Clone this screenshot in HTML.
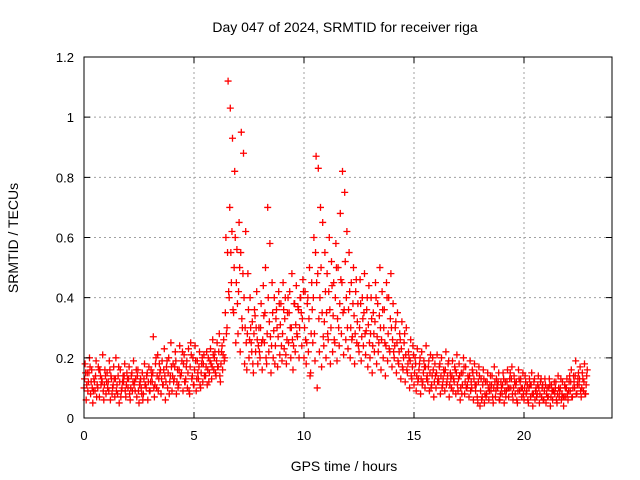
<!DOCTYPE html>
<html><head><meta charset="utf-8">
<style>
html,body{margin:0;padding:0;background:#fff;}
svg{display:block;font-family:"Liberation Sans",sans-serif;}
</style></head>
<body>
<svg id="chart" width="640" height="480" viewBox="0 0 640 480" xmlns="http://www.w3.org/2000/svg">
<rect width="640" height="480" fill="#fff"/>
<text x="345" y="32" font-size="14" text-anchor="middle">Day 047 of 2024, SRMTID for receiver riga</text>
<text transform="translate(18,238) rotate(-90)" font-size="14" text-anchor="middle">SRMTID / TECUs</text>
<text x="344" y="471" font-size="14" text-anchor="middle">GPS time / hours</text>
<g id="grid"></g>
<g id="marks"></g>
<g id="axes"></g>
</svg>
<script>
const xTicks=[0,5,10,15,20];
const yTicks=[0,0.2,0.4,0.6,0.8,1,1.2];
const yTickLabels=["0","0.2","0.4","0.6","0.8","1","1.2"];
const timeStep=0.1;
const seriesLow=[.10,.06,.12,.08,.05,.09,.11,.07,.13,.06,
.08,.12,.06,.10,.07,.11,.05,.09,.12,.07,
.10,.06,.09,.12,.07,.05,.10,.08,.11,.06,
.09,.12,.07,.10,.13,.08,.11,.06,.10,.12,
.09,.13,.08,.11,.14,.09,.12,.10,.08,.13,
.11,.09,.13,.10,.12,.14,.11,.15,.13,.16,
.14,.17,.12,.16,.20,.30,.40,.45,.35,.25,
.28,.22,.30,.18,.16,.20,.25,.15,.22,.18,
.20,.16,.25,.18,.22,.15,.20,.24,.17,.21,
.19,.23,.18,.25,.20,.16,.22,.27,.30,.24,
.20,.18,.22,.15,.25,.19,.10,.22,.17,.24,
.20,.26,.18,.22,.25,.19,.24,.28,.21,.26,
.23,.20,.27,.18,.25,.22,.19,.24,.21,.17,
.20,.15,.22,.18,.25,.16,.20,.14,.19,.22,
.17,.20,.15,.18,.13,.16,.12,.15,.10,.13,
.11,.09,.13,.08,.12,.10,.14,.09,.11,.07,
.10,.13,.08,.11,.09,.12,.07,.10,.13,.08,
.09,.06,.11,.08,.10,.07,.12,.06,.09,.05,
.04,.07,.05,.08,.06,.09,.05,.07,.10,.06,
.08,.05,.09,.07,.10,.06,.08,.05,.09,.07,
.06,.08,.05,.07,.04,.06,.08,.05,.07,.06,
.05,.07,.04,.06,.08,.05,.07,.06,.04,.07,
.06,.09,.07,.10,.08,.11,.07,.09,.08];
const seriesHigh=[.18,.15,.20,.16,.13,.19,.17,.14,.21,.16,
.15,.19,.13,.17,.20,.14,.16,.12,.18,.15,
.17,.14,.19,.13,.16,.12,.15,.18,.14,.17,
.16,.27,.18,.21,.15,.19,.23,.17,.20,.25,
.18,.22,.16,.24,.19,.21,.17,.23,.25,.20,
.24,.19,.22,.18,.21,.17,.20,.23,.26,.22,
.25,.28,.22,.26,.60,1.12,1.03,.93,.82,.56,
.65,.95,.88,.62,.48,.40,.32,.36,.42,.30,
.38,.44,.50,.70,.58,.45,.40,.36,.42,.38,
.45,.40,.35,.42,.48,.38,.44,.36,.40,.46,
.42,.38,.50,.45,.60,.87,.83,.70,.65,.55,
.48,.60,.52,.45,.58,.50,.68,.82,.75,.62,
.55,.45,.50,.42,.38,.46,.40,.48,.36,.44,
.40,.35,.45,.38,.50,.42,.36,.45,.40,.48,
.38,.30,.35,.28,.32,.25,.30,.22,.26,.24,
.20,.23,.18,.22,.19,.24,.17,.21,.20,.18,
.21,.17,.20,.16,.22,.18,.15,.19,.17,.21,
.18,.15,.20,.17,.14,.19,.16,.18,.15,.17,
.13,.16,.12,.15,.11,.14,.17,.13,.15,.12,
.15,.12,.16,.13,.17,.14,.12,.16,.13,.15,
.14,.11,.13,.15,.12,.10,.14,.12,.11,.13,
.10,.13,.11,.09,.12,.14,.10,.12,.11,.13,
.12,.16,.14,.19,.13,.17,.15,.18,.14];
const seriesMid=[.13,.11,.15,.12,.09,.14,.10,.16,.12,.11,
.12,.09,.14,.11,.13,.08,.12,.10,.14,.11,
.13,.10,.12,.09,.14,.11,.08,.13,.10,.12,
.12,.15,.11,.14,.18,.13,.16,.12,.15,.14,
.14,.17,.12,.16,.15,.18,.13,.15,.17,.14,
.16,.13,.17,.15,.18,.14,.16,.19,.17,.20,
.19,.22,.18,.21,.35,.55,.70,.62,.50,.45,
.42,.55,.48,.30,.28,.26,.22,.28,.30,.24,
.30,.26,.35,.28,.32,.24,.29,.33,.27,.31,
.28,.33,.26,.35,.30,.24,.31,.37,.40,.33,
.30,.25,.33,.28,.40,.55,.48,.40,.35,.32,
.35,.42,.30,.34,.40,.33,.38,.45,.36,.40,
.36,.30,.38,.28,.32,.30,.27,.35,.29,.31,
.28,.24,.32,.27,.34,.26,.30,.24,.28,.33,
.26,.24,.25,.22,.23,.20,.21,.18,.19,.17,
.15,.14,.16,.13,.15,.17,.12,.15,.14,.12,
.15,.12,.14,.13,.16,.14,.11,.14,.12,.15,
.13,.10,.15,.12,.11,.14,.10,.13,.11,.12,
.09,.11,.08,.12,.09,.11,.10,.09,.12,.08,
.11,.09,.12,.10,.13,.10,.11,.09,.12,.10,
.10,.09,.10,.11,.08,.09,.11,.08,.10,.09,
.08,.10,.07,.09,.10,.08,.09,.08,.07,.10,
.09,.12,.10,.14,.11,.13,.10,.12,.11];
const seriesExtra=[.15,.09,.17,.10,.12,.07,.16,.11,.09,.14,
.10,.16,.08,.13,.09,.17,.07,.14,.09,.13,
.08,.15,.11,.16,.09,.13,.06,.11,.15,.09,
.14,.10,.20,.09,.16,.11,.14,.19,.08,.17,
.12,.19,.10,.14,.22,.12,.19,.09,.21,.11,
.19,.15,.11,.20,.14,.22,.12,.18,.21,.15,
.17,.14,.24,.19,.28,.42,.55,.36,.60,.38,
.50,.33,.40,.25,.36,.30,.18,.34,.26,.22,
.25,.34,.20,.40,.27,.35,.18,.30,.38,.24,
.36,.21,.40,.30,.26,.38,.28,.20,.35,.42,
.26,.40,.14,.36,.28,.45,.33,.50,.27,.42,
.28,.36,.44,.26,.50,.30,.46,.35,.52,.30,
.42,.26,.34,.46,.24,.38,.33,.28,.40,.25,
.33,.28,.40,.22,.30,.36,.25,.40,.23,.30,
.22,.32,.19,.26,.17,.28,.16,.20,.14,.21,
.18,.12,.20,.11,.17,.13,.19,.10,.16,.14,
.12,.18,.10,.15,.11,.19,.13,.09,.16,.11,
.14,.08,.17,.10,.13,.09,.15,.11,.07,.14,
.06,.13,.07,.10,.14,.07,.12,.11,.06,.10,
.13,.07,.10,.15,.08,.12,.06,.13,.10,.08,
.12,.06,.11,.08,.13,.07,.10,.13,.06,.11,
.07,.11,.09,.12,.06,.10,.13,.07,.10,.08,
.14,.07,.12,.08,.15,.09,.13,.08,.16];

const L=84,R=612,T=57,B=418,XMAX=24,YMAX=1.2;
const xs=v=>L+(R-L)*v/XMAX;
const ys=v=>B-(B-T)*v/YMAX;
const NS="http://www.w3.org/2000/svg";
function mk(tag,attrs){const e=document.createElementNS(NS,tag);for(const k in attrs)e.setAttribute(k,attrs[k]);return e;}
const grid=document.getElementById('grid'),axes=document.getElementById('axes'),marks=document.getElementById('marks');

xTicks.forEach(t=>{
  const x=xs(t);
  if(t>0){const g=mk('line',{x1:x,x2:x,y1:T,y2:B,stroke:'#a0a0a0','stroke-dasharray':'2,3'});
  
  
  grid.appendChild(g);}
  const tk=mk('path',{d:`M${x},${B}v-6M${x},${T}v6`,stroke:'#000'});
  
  
  axes.appendChild(tk);
  const lb=mk('text',{x:x,y:B+22,'font-size':13,'text-anchor':'middle'});lb.textContent=String(t);
  
  
  axes.appendChild(lb);
});
yTicks.forEach((t,i)=>{
  const y=ys(t);
  if(t>0&&t<YMAX){const g=mk('line',{x1:L,x2:R,y1:y,y2:y,stroke:'#a0a0a0','stroke-dasharray':'2,3'});
  
  
  grid.appendChild(g);}
  const tk=mk('path',{d:`M${L},${y}h6M${R},${y}h-6`,stroke:'#000'});
  
  
  axes.appendChild(tk);
  const lb=mk('text',{x:L-10,y:y+5,'font-size':13,'text-anchor':'end'});lb.textContent=yTickLabels[i];
  
  
  axes.appendChild(lb);
});
const frame=mk('rect',{x:L,y:T,width:R-L,height:B-T,fill:'none',stroke:'#000'});


axes.appendChild(frame);

function plot(arr,off,color){
  let d='';
  arr.forEach((v,i)=>{const x=xs(i*timeStep+off),y=ys(v);d+=`M${x-3.5},${y}h7M${x},${y-3.5}v7`;});
  const p=mk('path',{d:d,stroke:color,'stroke-width':1.3,fill:'none'});
  
  
  marks.appendChild(p);
}
plot(seriesLow,0,'#ff0000');
plot(seriesMid,0.025,'#ff0000');
plot(seriesHigh,0.05,'#ff0000');
plot(seriesExtra,0.075,'#ff0000');
</script>
</body></html>
